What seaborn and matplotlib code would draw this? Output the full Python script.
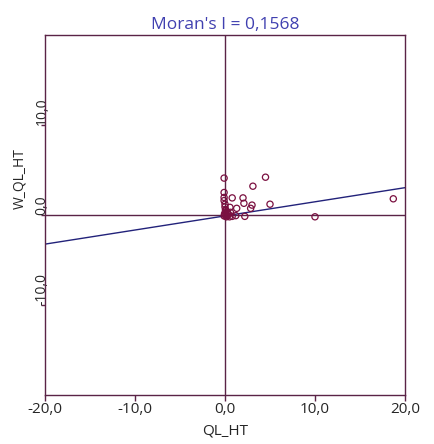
import matplotlib
matplotlib.use("Agg")
import matplotlib.pyplot as plt
import seaborn as sns
import pandas as pd

# values
ql_ht = [-0.1, 4.5, 3.1, -0.1, -0.1, 0.8, 2.0, -0.1, 0.0, 2.1, 3.0, 5.0,
         0.55, 1.3, 2.85, 0.07, 0.6, 0.8, 1.2, 2.2, 0.0, 0.1, -0.1, 0.3,
         0.2, 0.05, 0.15, 0.4, 18.7, 10.0, 0.0, 0.25, 0.1, -0.05, 0.5]
w_ql_ht = [4.1, 4.2, 3.2, 2.5, 1.95, 1.9, 1.9, 1.6, 1.2, 1.3, 1.1, 1.2,
           0.85, 0.74, 0.74, 0.48, 0.3, -0.15, -0.07, -0.15, 0.0, 0.1, -0.1, 0.2,
           -0.1, 0.6, -0.2, 0.05, 1.8, -0.2, 0.9, -0.05, 0.35, 0.15, -0.2]
moran_i = 0.1568
intercept = -0.1
x_ticks = [-20, -10, 0, 10, 20]
y_ticks = [-10, 0, 10]

df = pd.DataFrame({"QL_HT": ql_ht, "W_QL_HT": w_ql_ht})

sns.set_style("white")
plt.rcParams["font.family"] = ["Open Sans", "DejaVu Sans"]

frame_col = "#5a2346"
fig = plt.figure(figsize=(4.34, 4.44), dpi=100)
ax = fig.add_axes([45 / 434, 49 / 444, 360 / 434, 360 / 444])

ax.axhline(0, color=frame_col, lw=1, zorder=1)
ax.axvline(0, color=frame_col, lw=1, zorder=1)
ax.axline((0, intercept), slope=moran_i, color="#22227a", lw=1, zorder=2)

sns.scatterplot(data=df, x="QL_HT", y="W_QL_HT", ax=ax, marker="o", s=20,
                facecolors="none", edgecolor="#7a1040", linewidth=0.9, zorder=3)

ax.set_xlim(-20, 20)
ax.set_ylim(-20, 20)
ax.set_xticks(x_ticks)
ax.set_xticklabels([f"{v:.1f}".replace(".", ",") for v in x_ticks], fontsize=11)
ax.set_yticks(y_ticks)
ax.set_yticklabels([f"{v:.1f}".replace(".", ",") for v in y_ticks], fontsize=10,
                   rotation=90, rotation_mode="anchor", ha="left", va="center")
ax.tick_params(axis="x", direction="out", length=4, width=1, color=frame_col,
               bottom=True, pad=1)
ax.tick_params(axis="y", direction="out", length=3, width=1, color=frame_col,
               left=True, pad=-1)

for sp in ax.spines.values():
    sp.set_color(frame_col)
    sp.set_linewidth(1)

ax.set_xlabel("QL_HT", fontsize=11, labelpad=5)
ax.set_ylabel("W_QL_HT", fontsize=10)
ax.yaxis.set_label_coords(-0.05, 0.6)
ax.set_title("Moran's I = 0,1568", color="#4040b0", fontsize=12.5, pad=4)

plt.savefig("out.png", dpi=100)
